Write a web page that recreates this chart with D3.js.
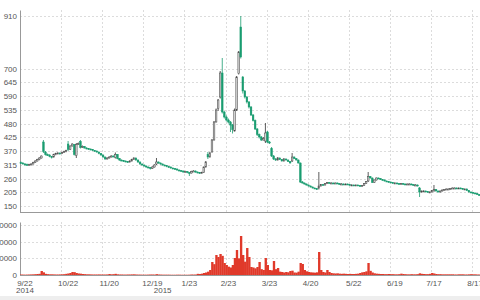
<!DOCTYPE html>
<html>
<head>
<meta charset="utf-8">
<script src="https://cdn.jsdelivr.net/npm/d3@7"></script>
<style>
  body { margin: 0; background: #fff; }
  text { font-family: Arial, "Liberation Sans", sans-serif; }
</style>
</head>
<body>
<div class="container"></div>
<script>
// svg dimensions
const width = 480;
const height = 300;

// daily candles [open, high, low, close]
const ohlc = [
  [324,328,318,322],[322,325,316,318],[318,322,313,316],[316,320,311,314],[314,319,312,316],
  [316,321,313,318],[318,327,316,324],[324,333,322,330],[330,339,328,336],[336,345,333,342],
  [342,352,340,350],[406,414,362,368],[366,370,352,356],[356,360,350,354],[354,357,345,348],
  [348,350,340,346],[346,359,344,356],[356,363,353,360],[360,365,357,362],[362,364,356,360],
  [360,367,358,364],[364,371,362,368],[368,375,365,372],[398,410,370,376],[376,393,374,390],
  [390,401,388,398],[396,398,352,356],[352,402,342,396],[396,404,394,400],[408,414,380,384],
  [384,392,382,388],[388,390,380,382],[382,385,377,380],[380,382,375,378],[378,380,373,376],
  [376,378,370,372],[372,374,367,370],[370,372,363,366],[366,368,357,360],[360,362,351,354],
  [354,356,343,346],[346,348,335,338],[338,345,336,342],[342,349,340,346],[346,353,344,350],
  [350,352,345,348],[344,364,340,356],[356,358,337,340],[340,342,331,334],[334,336,329,332],
  [332,334,327,330],[330,332,325,328],[328,330,323,326],[326,333,324,330],[330,339,328,336],
  [336,345,334,342],[342,344,331,334],[334,336,323,326],[326,328,315,318],[318,320,311,314],
  [314,316,307,310],[310,312,303,306],[306,308,301,304],[304,306,296,300],[300,309,298,306],
  [306,317,304,314],[318,342,314,326],[326,328,319,322],[322,324,315,318],[318,320,311,314],
  [314,316,309,312],[312,314,305,308],[308,310,303,306],[306,308,299,302],[302,304,297,300],
  [300,302,295,298],[298,300,291,294],[294,296,289,292],[292,294,287,290],[290,292,283,286],
  [286,291,284,288],[288,290,281,284],[284,286,270,282],[282,291,280,288],[288,293,286,290],
  [290,292,283,286],[286,288,281,284],[284,286,279,282],[282,287,280,284],[284,308,282,306],
  [306,330,304,326],[356,366,338,346],[346,366,344,362],[366,418,364,414],[414,490,412,486],
  [486,540,484,534],[540,578,530,574],[586,690,580,682],[682,742,520,526],[526,530,500,506],
  [506,512,488,494],[494,500,480,486],[486,490,446,474],[474,478,440,456],[450,540,448,534],
  [534,670,530,666],[680,770,676,766],[866,910,740,746],[666,670,600,610],[610,614,580,586],
  [586,590,560,566],[566,570,540,546],[546,550,510,514],[514,518,488,492],[492,496,454,458],
  [458,462,430,436],[436,440,420,426],[426,430,410,414],[414,426,412,420],[410,482,402,442],
  [446,450,402,406],[406,410,398,402],[380,386,346,350],[350,354,334,338],[338,342,330,334],
  [334,346,332,342],[342,344,334,336],[336,338,328,330],[330,342,328,338],[338,340,332,334],
  [334,336,326,328],[328,330,320,322],[330,362,326,346],[346,348,338,340],[340,342,332,334],
  [334,336,320,322],[322,324,242,246],[246,250,240,242],[242,244,236,238],[238,240,232,234],
  [234,236,228,230],[230,232,224,226],[226,228,220,222],[222,224,218,220],[220,222,214,218],
  [222,286,216,230],[230,238,228,236],[236,238,232,234],[234,242,232,240],[240,246,238,244],
  [244,246,240,242],[242,245,239,242],[242,244,238,240],[240,244,238,242],[242,244,238,240],
  [240,242,236,238],[238,241,236,238],[238,240,234,236],[236,240,234,238],[238,240,234,236],
  [236,238,232,234],[234,237,232,234],[234,236,230,232],[232,236,230,234],[234,236,230,232],
  [232,234,228,230],[230,234,228,232],[232,242,230,240],[240,250,238,248],[250,286,246,268],
  [268,270,260,262],[262,264,242,244],[244,256,242,254],[254,264,252,262],[262,264,258,260],
  [260,262,254,256],[256,258,252,254],[254,256,248,250],[250,252,246,248],[248,250,244,246],
  [246,248,242,244],[244,246,240,242],[242,245,240,242],[242,244,238,240],[240,242,236,238],
  [238,242,236,240],[240,242,236,238],[238,240,234,236],[236,240,234,238],[238,241,236,238],
  [238,240,234,236],[236,238,232,234],[234,237,232,234],[234,236,228,230],[222,226,186,206],
  [206,212,204,210],[210,213,207,210],[210,212,206,208],[208,210,204,206],[206,209,203,206],
  [206,214,204,212],[210,234,208,216],[216,218,208,210],[210,212,204,206],[206,212,204,210],
  [210,216,208,214],[214,218,212,216],[216,220,214,218],[218,220,216,218],[218,222,216,220],
  [220,224,218,222],[222,224,220,222],[222,224,218,220],[220,224,218,222],[222,224,218,220],
  [220,222,216,218],[218,220,216,218],[218,220,210,212],[212,214,204,206],[206,208,202,204],
  [204,206,200,202],[202,204,198,200],[200,202,194,196],[196,198,190,194]
];

// daily volume
const volume = [
  300,250,200,250,300,350,400,500,600,700,
  2400,1600,700,500,400,400,350,300,300,350,
  400,500,700,900,1200,1800,1700,1200,900,800,
  600,500,400,400,350,300,300,300,350,300,
  300,300,350,600,400,500,700,400,300,300,
  250,250,300,300,350,400,300,250,250,200,
  200,200,250,300,300,250,500,300,250,200,
  200,200,200,150,150,150,200,200,150,150,
  150,150,200,300,250,300,700,600,800,1200,
  1500,2000,3000,7800,6500,12000,10800,12600,11500,7200,
  6000,5000,4500,6000,10200,15000,10000,23400,12000,8000,
  16200,10800,4800,4500,4000,4800,7800,3500,3000,10200,
  6000,3000,2800,8400,3500,4200,2000,1800,1500,1800,
  1600,2400,2600,1500,1400,2000,7200,6600,3000,2200,
  1800,1600,1500,1400,1600,13800,3000,1800,1500,3000,
  1800,1200,1000,900,1000,800,700,800,700,600,
  700,600,600,700,800,1200,1600,1800,2200,7200,
  2500,1500,1000,800,700,600,600,500,500,600,
  500,500,400,400,500,800,600,500,400,400,
  500,400,400,500,1000,700,600,500,500,700,
  1200,900,600,500,500,400,400,400,400,400,
  400,300,300,400,400,400,300,300,400,500,
  400,400,300,300
];

// axis ticks
const priceTicks = [150, 205, 260, 315, 370, 425, 480, 535, 590, 645, 700, 910];
const volumeTicks = [0, 10000, 20000, 30000];
const dateLabels = ['9/22', '10/22', '11/20', '12/19', '1/23', '2/23', '3/23', '4/20', '5/22', '6/19', '7/17', '8/17'];
const dateIndex = [2, 23, 43, 64, 82, 101, 121, 141, 162, 182, 201, 221];
const yearLabels = ['2014', '2015'];
const yearIndex = [2, 69];

const upColor = '#d4d4d4';
const downColor = '#1a9c70';
const volColor = '#e0392a';

const svg = d3.select('.container')
  .append('svg')
  .attr('width', width)
  .attr('height', height);

const left = 20, right = 480;
const xScale = d3.scaleBand()
  .domain(d3.range(ohlc.length))
  .range([left, right])
  .paddingInner(0.2)
  .paddingOuter(0);
const step = xScale.step();
const xMid = i => xScale(i) + xScale.bandwidth() / 2;

const yPrice = d3.scaleLinear().domain([126, 934]).range([212, 10]);
const yVol = d3.scaleLinear().domain([0, 31800]).range([275, 222]);

// bottom strip
svg.append('rect').attr('x', 0).attr('y', 296).attr('width', width).attr('height', 4).attr('fill', '#eeeeee');

// grid lines
const gridX = d3.range(20, ohlc.length + 1, 20);
function grid(yScale, ticks, top, bottom) {
  const g = svg.append('g')
    .attr('stroke', '#dcdcdc')
    .attr('stroke-width', 1)
    .attr('stroke-dasharray', '2,2');
  g.selectAll('.h').data(ticks).enter().append('line')
    .attr('x1', left).attr('x2', right)
    .attr('y1', d => Math.round(yScale(d)) + 0.5)
    .attr('y2', d => Math.round(yScale(d)) + 0.5);
  g.selectAll('.v').data(gridX).enter().append('line')
    .attr('x1', d => Math.round(left + d * step) + 0.5)
    .attr('x2', d => Math.round(left + d * step) + 0.5)
    .attr('y1', top).attr('y2', bottom);
}
grid(yPrice, priceTicks, 10, 212);
grid(yVol, volumeTicks.slice(1), 222, 275);

// y axes
function yAxis(yScale, ticks, fmt) {
  const g = svg.append('g')
    .attr('transform', `translate(${left},0)`)
    .call(d3.axisLeft(yScale).tickValues(ticks).tickSize(0).tickPadding(3).tickFormat(fmt));
  g.select('.domain').attr('stroke', '#999');
  g.selectAll('text').attr('fill', '#555').style('font-size', '8px');
}
yAxis(yPrice, priceTicks, d3.format('d'));
yAxis(yVol, volumeTicks, d3.format('d'));

// panel bottom borders
svg.append('line').attr('x1', left).attr('x2', right).attr('y1', 212.5).attr('y2', 212.5).attr('stroke', '#999');
svg.append('line').attr('x1', left).attr('x2', right).attr('y1', 275.5).attr('y2', 275.5).attr('stroke', '#999');

// candles
const candles = svg.append('g');
candles.selectAll('line')
  .data(ohlc)
  .enter()
  .append('line')
  .attr('x1', (d, i) => xMid(i))
  .attr('x2', (d, i) => xMid(i))
  .attr('y1', d => yPrice(d[1]))
  .attr('y2', d => yPrice(d[2]))
  .attr('stroke', d => d[3] >= d[0] ? '#333' : downColor)
  .attr('stroke-width', 0.8);

candles.selectAll('rect')
  .data(ohlc)
  .enter()
  .append('rect')
  .attr('x', (d, i) => xScale(i))
  .attr('width', xScale.bandwidth())
  .attr('y', d => yPrice(Math.max(d[0], d[3])))
  .attr('height', d => Math.max(1, Math.abs(yPrice(d[0]) - yPrice(d[3]))))
  .style('fill', d => d[3] >= d[0] ? upColor : downColor)
  .style('stroke', d => d[3] >= d[0] ? '#444' : downColor)
  .style('stroke-width', 0.5);

// volume bars
svg.append('g').selectAll('rect')
  .data(volume)
  .enter()
  .append('rect')
  .attr('x', (d, i) => left + i * step)
  .attr('width', step + 0.3)
  .attr('y', d => yVol(d))
  .attr('height', d => yVol(0) - yVol(d))
  .style('fill', volColor);

// x labels
svg.append('g').selectAll('text')
  .data(dateLabels)
  .enter()
  .append('text')
  .attr('x', (d, i) => xMid(dateIndex[i]))
  .attr('y', 286)
  .attr('text-anchor', 'middle')
  .attr('fill', '#555')
  .style('font-size', '8px')
  .text(d => d);

svg.append('g').selectAll('text')
  .data(yearLabels)
  .enter()
  .append('text')
  .attr('x', (d, i) => xMid(yearIndex[i]))
  .attr('y', 293)
  .attr('text-anchor', 'middle')
  .attr('fill', '#555')
  .style('font-size', '8px')
  .text(d => d);
</script>
</body>
</html>
